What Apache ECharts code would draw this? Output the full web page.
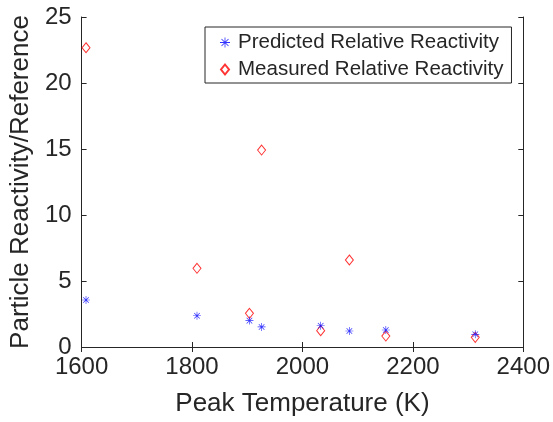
<!DOCTYPE html>
<html>
<head>
<meta charset="utf-8">
<script src="https://cdn.jsdelivr.net/npm/echarts@6/dist/echarts.min.js"></script>
<style>
	html, body { margin: 0; padding: 0; background: #fff; }
	#chart { width: 553px; height: 422px; }
</style>
</head>
<body>
<div id="chart"></div>
<script>
// peak temperature (K)
var temps = [1608, 1809, 1904, 1926, 2033, 2085, 2151, 2313];
// predicted relative reactivity
var predicted = [3.56, 2.37, 2.0, 1.52, 1.61, 1.21, 1.29, 0.96];
// measured relative reactivity
var measured = [22.67, 5.96, 2.55, 14.92, 1.24, 6.59, 0.83, 0.73];
var xTicks = [1600, 1800, 2000, 2200, 2400];
var yTicks = [0, 5, 10, 15, 20, 25];

var ink = '#262626';
var font = '"Liberation Sans", Arial, Helvetica, sans-serif';
// matlab style asterisk (+ and x on top of each other)
var star = 'path://M4.6,0L5.4,0L5.4,10L4.6,10Z M0,4.6L10,4.6L10,5.4L0,5.4Z ' +
	'M1.2,1.8L1.8,1.2L8.8,8.2L8.2,8.8Z M8.2,1.2L8.8,1.8L1.8,8.8L1.2,8.2Z';

function pairs(xs, ys) {
	return xs.map(function (x, i) { return [x, ys[i]]; });
}

var chart = echarts.init(document.getElementById('chart'));
var axisCommon = {
	type: 'value',
	axisLine: { show: true, lineStyle: { color: ink, width: 1 } },
	axisTick: { show: true, inside: true, length: 5, lineStyle: { color: ink } },
	splitLine: { show: false }
};

chart.setOption({
	animation: false,
	backgroundColor: '#fff',
	textStyle: { fontFamily: font },
	grid: { left: 77, right: 29, top: 17, bottom: 74 },
	legend: {
		orient: 'vertical',
		left: 205,
		top: 27,
		padding: [5, 8, 3, 15],
		itemGap: 6,
		itemWidth: 10,
		itemHeight: 10,
		borderColor: ink,
		borderWidth: 1,
		backgroundColor: '#fff',
		textStyle: { fontFamily: font, fontSize: 20.5, color: ink, padding: [0, 0, 0, 3] },
		data: [
			{ name: 'Predicted Relative Reactivity', itemStyle: { color: '#0000ff' } },
			{ name: 'Measured Relative Reactivity', icon: 'path://M4,0L8,5L4,10L0,5Z' }
		]
	},
	xAxis: [
		Object.assign({}, axisCommon, {
			min: 1600, max: 2400, interval: 200,
			name: 'Peak Temperature (K)',
			nameLocation: 'middle',
			nameGap: 44,
			nameTextStyle: { fontSize: 26, color: ink, fontFamily: font },
			axisLabel: {
				fontSize: 24, color: ink, margin: 8,
				formatter: function (v) { return xTicks.indexOf(v) >= 0 ? String(v) : ''; }
			}
		}),
		Object.assign({}, axisCommon, {
			position: 'top', min: 1600, max: 2400, interval: 200,
			axisLabel: { show: false }
		})
	],
	yAxis: [
		Object.assign({}, axisCommon, {
			min: 0, max: 25, interval: 5,
			name: 'Particle Reactivity/Reference',
			nameLocation: 'middle',
			nameGap: 40,
			nameTextStyle: { fontSize: 26, color: ink, fontFamily: font },
			axisLabel: {
				fontSize: 24, color: ink, margin: 10,
				formatter: function (v) { return yTicks.indexOf(v) >= 0 ? String(v) : ''; }
			}
		}),
		Object.assign({}, axisCommon, {
			position: 'right', min: 0, max: 25, interval: 5,
			axisLabel: { show: false }
		})
	],
	series: [
		{
			name: 'Predicted Relative Reactivity',
			type: 'scatter',
			symbol: star,
			symbolSize: 8,
			itemStyle: { color: '#0000ff' },
			data: pairs(temps, predicted),
			z: 3
		},
		{
			name: 'Measured Relative Reactivity',
			type: 'scatter',
			symbol: 'diamond',
			symbolSize: [8, 10],
			itemStyle: { color: 'rgba(0,0,0,0)', borderColor: '#ff0000', borderWidth: 1 },
			data: pairs(temps, measured),
			z: 2
		}
	]
});
</script>
</body>
</html>
